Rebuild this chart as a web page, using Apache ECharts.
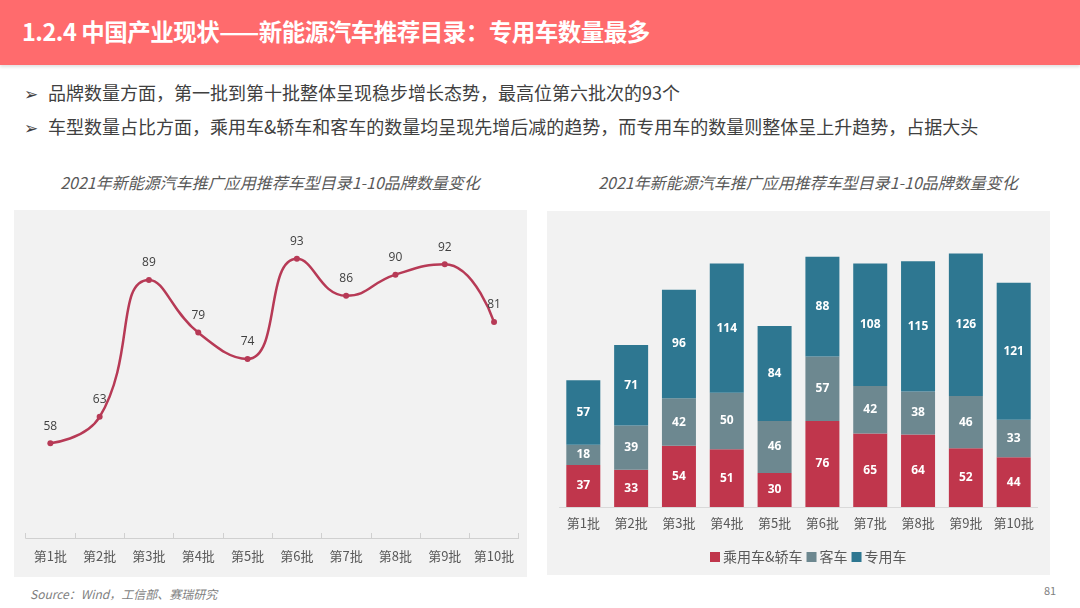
<!DOCTYPE html>
<html><head><meta charset="utf-8">
<script src="https://cdn.jsdelivr.net/npm/echarts@6/dist/echarts.min.js"></script>
<style>
html,body{margin:0;padding:0;width:1080px;height:608px;background:#fff;overflow:hidden;font-family:"Noto Sans CJK SC","Noto Sans",sans-serif;}
#hdr{position:absolute;left:0;top:0;width:1080px;height:65px;background:#FF6B6D;box-shadow:0 2px 3px rgba(0,0,0,0.12);}
#hdr span{position:absolute;left:22px;top:14px;font-size:23.5px;font-weight:bold;color:#fff;letter-spacing:-0.5px;}
.bul{position:absolute;left:24px;font-size:18px;color:#404040;white-space:nowrap;}
.bul b{font-weight:normal;display:inline-block;width:24px;color:#404040;font-size:17px;}
.ttl{position:absolute;top:170px;width:540px;text-align:center;font-size:16px;font-style:italic;color:#595959;}
.panel{position:absolute;background:#F2F2F2;}
#src{position:absolute;left:30px;top:585px;font-size:12px;font-style:italic;color:#7f7f7f;}
#pg{position:absolute;left:1044px;top:582px;font-size:11px;color:#7f7f7f;}
#chart{position:absolute;left:0;top:0;width:1080px;height:608px;}
</style></head>
<body>
<div id="hdr"><span>1.2.4 中国产业现状——新能源汽车推荐目录：专用车数量最多</span></div>
<div class="bul" style="top:79px"><b>➢</b>品牌数量方面，第一批到第十批整体呈现稳步增长态势，最高位第六批次的93个</div>
<div class="bul" style="top:113px"><b>➢</b>车型数量占比方面，乘用车&amp;轿车和客车的数量均呈现先增后减的趋势，而专用车的数量则整体呈上升趋势，占据大头</div>
<div class="ttl" style="left:0">2021年新能源汽车推广应用推荐车型目录1-10品牌数量变化</div>
<div class="ttl" style="left:538px">2021年新能源汽车推广应用推荐车型目录1-10品牌数量变化</div>
<div class="panel" style="left:14px;top:210px;width:513px;height:367px"></div>
<div class="panel" style="left:547px;top:211px;width:503px;height:364px"></div>
<div id="src">Source：Wind，工信部、赛瑞研究</div>
<div id="pg">81</div>
<div id="chart"></div>
<script>
var categories = ['第1批','第2批','第3批','第4批','第5批','第6批','第7批','第8批','第9批','第10批'];
var brandCounts = [58, 63, 89, 79, 74, 93, 86, 90, 92, 81];
var passengerCars = [37, 33, 54, 51, 30, 76, 65, 64, 52, 44];
var buses = [18, 39, 42, 50, 46, 57, 42, 38, 46, 33];
var specialVehicles = [57, 71, 96, 114, 84, 88, 108, 115, 126, 121];
var seriesNames = ['乘用车&轿车', '客车', '专用车'];
var barColors = ['#C0364C', '#6D8890', '#2E7791'];

var chart = echarts.init(document.getElementById('chart'));
var barLabel = {show:true, position:'inside', color:'#fff', fontWeight:'bold', fontSize:12, fontFamily:'Open Sans'};
chart.setOption({
  animation:false,
  grid:[
    {left:25.7, right:561.3, top:222, bottom:70},
    {left:559.4, right:42.4, top:224, bottom:101}
  ],
  legend:{
    left:705, top:545,
    data:seriesNames, itemWidth:10, itemHeight:10, itemGap:4,
    icon:'rect', textStyle:{fontSize:14, color:'#595959', fontFamily:'Noto Sans CJK SC', padding:[0,0,0,-2]}
  },
  xAxis:[
    {type:'category', gridIndex:0, data:categories, boundaryGap:true,
     axisLine:{lineStyle:{color:'#D0D0D0'}},
     axisTick:{show:true, inside:true, length:5, lineStyle:{color:'#D0D0D0'}},
     axisLabel:{interval:0, color:'#595959', fontSize:13, margin:12, fontFamily:'Noto Sans CJK SC'}},
    {type:'category', gridIndex:1, data:categories,
     axisLine:{lineStyle:{color:'#D9D9D9'}}, axisTick:{show:false},
     axisLabel:{interval:0, color:'#595959', fontSize:13, margin:10, fontFamily:'Noto Sans CJK SC'}}
  ],
  yAxis:[
    {type:'value', gridIndex:0, min:40, max:100, show:false, splitLine:{show:false}},
    {type:'value', gridIndex:1, min:0, max:250, show:false, splitLine:{show:false}}
  ],
  series:[
    {type:'line', xAxisIndex:0, yAxisIndex:0, data:brandCounts, smooth:0.5,
     symbol:'circle', symbolSize:6, itemStyle:{color:'#B73A56'},
     lineStyle:{color:'#B73A56', width:2.5},
     label:{show:true, position:'top', distance:8, color:'#404040', fontSize:12, fontFamily:'Open Sans'}},
    {type:'bar', name:seriesNames[0], stack:'t', xAxisIndex:1, yAxisIndex:1, data:passengerCars, barWidth:34, itemStyle:{color:barColors[0]}, label:barLabel},
    {type:'bar', name:seriesNames[1], stack:'t', xAxisIndex:1, yAxisIndex:1, data:buses, barWidth:34, itemStyle:{color:barColors[1]}, label:barLabel},
    {type:'bar', name:seriesNames[2], stack:'t', xAxisIndex:1, yAxisIndex:1, data:specialVehicles, barWidth:34, itemStyle:{color:barColors[2]}, label:barLabel}
  ]
});
</script>
</body></html>
